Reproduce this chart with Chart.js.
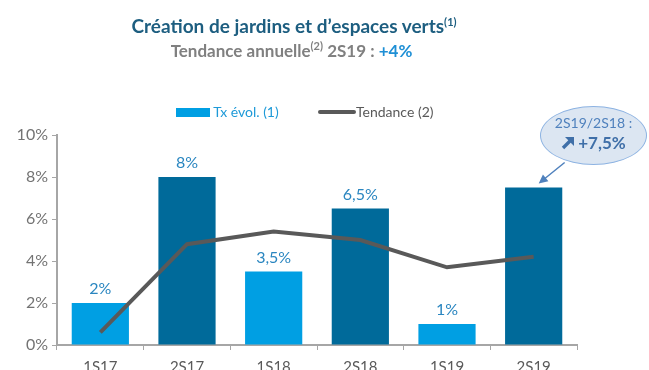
<!DOCTYPE html>
<html>
<head>
<meta charset="utf-8">
<script src="https://cdn.jsdelivr.net/npm/chart.js"></script>
<style>
  body { margin: 0; background: #fff; font-family: Lato, "Open Sans", sans-serif; }
  #wrap { position: relative; width: 649px; height: 370px; overflow: hidden; }
  #chart { position: absolute; left: 0; top: 0; }
  .t1 { position: absolute; left: 0; width: 588px; top: 14px; text-align: center;
        font-weight: bold; font-size: 19px; color: #1D5E80; }
  .t2 { position: absolute; left: 0; width: 583px; top: 40px; text-align: center;
        font-weight: bold; font-size: 17px; color: #808080; }
  .t2 span.v { color: #1E8FD5; }
  sup { font-size: 11px; vertical-align: 7px; line-height: 0; }
  .legend { position: absolute; top: 103px; left: 176px; font-size: 14px; }
  .legend .item { position: absolute; white-space: nowrap; top: 0; }
  .legend .box { display: inline-block; width: 34px; height: 9px; background: #009FE3; vertical-align: 0px; }
  .legend .ln { display: inline-block; width: 38px; height: 4px; border-radius: 2px; background: #595959; vertical-align: 3px; }
  .bubble { position: absolute; left: 540px; top: 106px; width: 107px; height: 59px;
            border-radius: 50%; background: #DCE6F2; border: 1px solid #8DB3E2;
            box-sizing: border-box; text-align: center; color: #4F81BD; font-size: 14px; }
  .bubble .a { padding-top: 7px; }
  .bubble .b { font-weight: bold; font-size: 17px; color: #3F6FA8; margin-top: 1px; }
  .bubble .b svg { vertical-align: -1px; margin-right: 3px; }
</style>
</head>
<body>
<div id="wrap">
  <canvas id="chart" width="649" height="370"></canvas>
  <div class="t1">Création de jardins et d’espaces verts<sup>(1)</sup></div>
  <div class="t2">Tendance annuelle<sup>(2)</sup> 2S19 : <span class="v">+4%</span></div>
  <div class="legend">
    <div class="item" style="left:0; color:#1E9AD8"><span class="box"></span> Tx évol. (1)</div>
    <div class="item" style="left:142px; color:#595959"><span class="ln"></span>Tendance (2)</div>
  </div>
  <div class="bubble">
    <div class="a">2S19/2S18 :</div>
    <div class="b"><svg width="14" height="14" viewBox="0 0 14 14"><path d="M2 12 L9 5" stroke="#3F6FA8" stroke-width="3.4"/><path d="M4 1 L13 1 L13 10 Z" fill="#3F6FA8"/></svg>+7,5%</div>
  </div>
</div>
<script>
const periods = ["1S17", "2S17", "1S18", "2S18", "1S19", "2S19"];
const evolution = [2, 8, 3.5, 6.5, 1, 7.5];
const trend = [0.6, 4.8, 5.4, 5.0, 3.7, 4.2];
const yTicks = [0, 2, 4, 6, 8, 10];
// the last bar is commented by the bubble instead of a label
const showLabel = [true, true, true, true, true, false];

const barColors = periods.map(p => p.startsWith("1S") ? "#009FE3" : "#006A9A");

const fmt = v => String(v).replace(".", ",") + "%";

// value labels above the bars, plus the arrow from the bubble to the last bar
const extras = {
  id: "extras",
  afterDatasetsDraw(chart) {
    const ctx = chart.ctx;
    const meta = chart.getDatasetMeta(0);
    ctx.save();
    ctx.font = "16px Lato, sans-serif";
    ctx.fillStyle = "#2A86C0";
    ctx.textAlign = "center";
    ctx.textBaseline = "bottom";
    meta.data.forEach((bar, i) => {
      if (showLabel[i]) ctx.fillText(fmt(evolution[i]), bar.x, bar.y - 6);
    });
    const last = meta.data[meta.data.length - 1];
    const ex = last.x + 5, ey = last.y - 4;
    const sx = ex + 26, sy = ey - 21;
    const ang = Math.atan2(ey - sy, ex - sx);
    ctx.strokeStyle = "#4F81BD";
    ctx.fillStyle = "#4F81BD";
    ctx.lineWidth = 1.5;
    ctx.beginPath();
    ctx.moveTo(sx, sy);
    ctx.lineTo(ex - 6 * Math.cos(ang), ey - 6 * Math.sin(ang));
    ctx.stroke();
    ctx.beginPath();
    ctx.moveTo(ex, ey);
    ctx.lineTo(ex - 10 * Math.cos(ang - 0.45), ey - 10 * Math.sin(ang - 0.45));
    ctx.lineTo(ex - 10 * Math.cos(ang + 0.45), ey - 10 * Math.sin(ang + 0.45));
    ctx.closePath();
    ctx.fill();
    ctx.restore();
  }
};

new Chart(document.getElementById("chart"), {
  data: {
    labels: periods,
    datasets: [{
      type: "bar",
      label: "Tx évol. (1)",
      data: evolution,
      backgroundColor: barColors,
      barPercentage: 0.66,
      categoryPercentage: 1,
      order: 2
    }, {
      type: "line",
      label: "Tendance (2)",
      data: trend,
      borderColor: "#595959",
      borderWidth: 4,
      pointRadius: 0,
      tension: 0,
      order: 1
    }]
  },
  options: {
    responsive: false,
    animation: false,
    layout: { padding: { top: 135, right: 72, left: 0, bottom: 0 } },
    plugins: { legend: { display: false }, tooltip: { enabled: false } },
    scales: {
      x: {
        offset: true,
        grid: { display: true, drawOnChartArea: false, offset: true, tickLength: 5, color: "#A6A6A6" },
        border: { color: "#A6A6A6", width: 2 },
        ticks: { color: "#595959", font: { size: 15, family: "Lato" }, padding: 8 },
        afterFit: s => { s.height = 25; }
      },
      y: {
        min: 0,
        max: 10,
        afterBuildTicks: s => { s.ticks = yTicks.map(v => ({ value: v })); },
        grid: { display: true, drawOnChartArea: false, tickLength: 5, color: "#A6A6A6" },
        border: { color: "#A6A6A6", width: 2 },
        ticks: { color: "#737373", font: { size: 16, family: "Lato" }, padding: 4, callback: v => v + "%" },
        afterFit: s => { s.width = 57; }
      }
    }
  },
  plugins: [extras]
});
</script>
</body>
</html>
